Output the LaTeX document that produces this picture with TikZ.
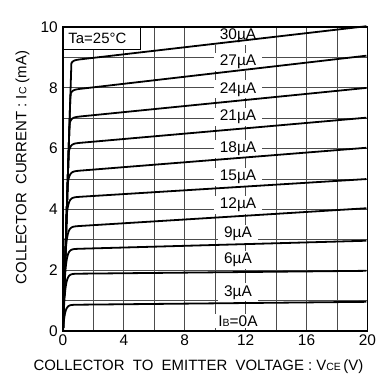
\documentclass[tikz,border=0pt]{standalone}
\usepackage{fontspec}
\setmainfont{Liberation Sans}
\usepackage{tikz}
\usetikzlibrary{positioning}
\tikzset{grid line/.style = {line width=0.9bp, black!70},
         frame line/.style = {line width=1.8bp},
         curve/.style = {line width=1.8bp, line join=round},
         ib label/.style = {fill=white, inner xsep=6bp, inner ysep=2bp,
                            font=\fontsize{15.5}{15.5}\selectfont},
         tick label/.style = {inner sep=0pt, font=\fontsize{15.5}{15.5}\selectfont},
         axis title/.style = {inner sep=0pt, font=\fontsize{15}{15}\selectfont}}
\newcommand{\lowcap}[1]{{\fontsize{10.5}{10.5}\selectfont #1}}

\begin{document}
\begin{tikzpicture}[x=15.22bp, y=30.4bp]
  \useasboundingbox (-63bp, -48bp) rectangle (313bp, 331bp);
  \foreach \x in {2, 4, ..., 18}
    \draw [grid line] (\x, 0) -- (\x, 10);
  \foreach \y in {1, 2, ..., 9}
    \draw [grid line] (0, \y) -- (20, \y);
  \foreach \ib/\y in {30/9.72, 27/8.85, 24/7.95, 21/7.05, 18/6.0, 15/5.07, 12/4.15, 9/3.2, 6/2.35, 3/1.27}
    \node (ib\ib) [ib label] at (11.5, \y) {\ib µA};
  \node (ib0) [ib label] at (11.5, 0.33) {I\lowcap{B}=0A};
  \foreach \ia/\is in {8.87/0.058, 7.9/0.058, 7.0/0.05, 6.14/0.044, 5.23/0.04,
                       4.38/0.031, 3.42/0.031, 2.69/0.014, 1.88/0.005, 0.86/0.005}
    \draw [curve] plot [domain=0:1, samples=140, variable=\t]
      ({20*\t^3}, {min(16*20*\t^3, (\ia + \is*20*\t^3)*(1 - exp(max(-20*\t^3/0.12, -15))))});
  \draw [curve] (0, 0) -- (20, 0);
  \draw [frame line] (0, 0) rectangle (20, 10);
  \node (ta) [draw, line width=0.9bp, fill=white, anchor=north west, inner xsep=5bp,
              minimum height=22bp, text width=67bp, font=\fontsize{15}{15}\selectfont]
    at (0, 10) {Ta=25°C};
  \foreach \x in {0, 4, 8, 12, 16, 20}
    \node (x\x) [tick label, yshift=-9.5bp] at (\x, 0) {\x};
  \foreach \y in {0, 2, 4, 6, 8, 10}
    \node (y\y) [tick label, anchor=east, xshift=-5bp] at (0, \y) {\y};
  \node (xtitle) [axis title, yshift=-36bp] at (8.9, 0)
    {COLLECTOR\ \ TO\ \ EMITTER\ \ VOLTAGE : V\lowcap{CE}\,(V)};
  \node (ytitle) [axis title, rotate=90] at (-2.66, 5.38)
    {COLLECTOR\ \ CURRENT : I\lowcap{C} (mA)};
\end{tikzpicture}
\end{document}
